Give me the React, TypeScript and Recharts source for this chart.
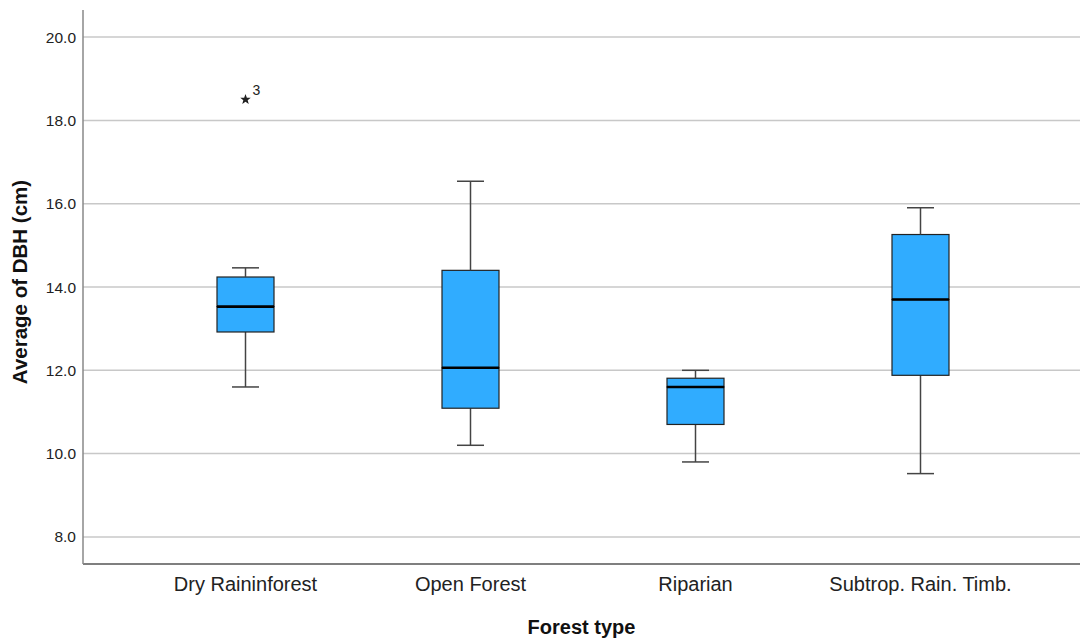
import React from 'react';
import { ComposedChart, Bar, Scatter, XAxis, YAxis, ReferenceLine } from 'recharts';

const categories = ['Dry Raininforest', 'Open Forest', 'Riparian', 'Subtrop. Rain. Timb.'];
const minima = [11.6, 10.2, 9.8, 9.52];
const q1s = [12.92, 11.09, 10.7, 11.88];
const medians = [13.53, 12.06, 11.6, 13.7];
const q3s = [14.24, 14.4, 11.81, 15.26];
const maxima = [14.46, 16.54, 12.0, 15.9];
const outliers: (number | null)[] = [18.5, null, null, null];
const outlierLabels = ['3', '', '', ''];
const yTicks = [8, 10, 12, 14, 16, 18, 20];

const FONT = "Arial, 'Liberation Sans', sans-serif";
const BOX_FILL = '#30acff';

const data = categories.map((name, i) => ({
  name,
  base: minima[i],
  lowWhisker: q1s[i] - minima[i],
  lowBox: medians[i] - q1s[i],
  highBox: q3s[i] - medians[i],
  highWhisker: maxima[i] - q3s[i],
  outlier: outliers[i],
  outlierLabel: outlierLabels[i],
}));

const CAP = 27;

const Empty = () => null;

const LowWhisker = (p: any) => {
  const cx = p.x + p.width / 2;
  const bottom = p.y + p.height;
  return (
    <g stroke="#444" strokeWidth={1.5}>
      <line x1={cx} x2={cx} y1={p.y} y2={bottom} />
      <line x1={cx - CAP / 2} x2={cx + CAP / 2} y1={bottom} y2={bottom} />
    </g>
  );
};

const HighWhisker = (p: any) => {
  const cx = p.x + p.width / 2;
  return (
    <g stroke="#444" strokeWidth={1.5}>
      <line x1={cx} x2={cx} y1={p.y} y2={p.y + p.height} />
      <line x1={cx - CAP / 2} x2={cx + CAP / 2} y1={p.y} y2={p.y} />
    </g>
  );
};

const LowBox = (p: any) => (
  <rect x={p.x} y={p.y} width={p.width} height={p.height} fill={BOX_FILL} stroke="#222" strokeWidth={1.2} />
);

const HighBox = (p: any) => {
  const bottom = p.y + p.height;
  return (
    <g>
      <rect x={p.x} y={p.y} width={p.width} height={p.height} fill={BOX_FILL} stroke="#222" strokeWidth={1.2} />
      <line x1={p.x} x2={p.x + p.width} y1={bottom} y2={bottom} stroke="#000" strokeWidth={2.6} />
    </g>
  );
};

const Star = (p: any) => {
  if (p.payload == null || p.payload.outlier == null) return null;
  const { cx, cy } = p;
  const pts: string[] = [];
  for (let k = 0; k < 10; k++) {
    const r = k % 2 === 0 ? 5.5 : 2.3;
    const a = -Math.PI / 2 + (k * Math.PI) / 5;
    pts.push(`${cx + r * Math.cos(a)},${cy + r * Math.sin(a)}`);
  }
  return (
    <g>
      <polygon points={pts.join(' ')} fill="#222" />
      <text x={cx + 7} y={cy - 5} fontSize={14} fontFamily={FONT} fill="#222">
        {p.payload.outlierLabel}
      </text>
    </g>
  );
};

export default function App() {
  return (
    <div style={{ position: 'absolute', left: 0, top: 0, background: '#fff' }}>
      <ComposedChart
        width={1080}
        height={644}
        data={data}
        margin={{ top: 10, right: 0, bottom: 0, left: 0 }}
        barSize={57}
      >
        {yTicks.map((t) => (
          <ReferenceLine key={t} y={t} stroke="#c8c8c8" strokeWidth={1.5} zIndex={-100} />
        ))}
        <XAxis
          dataKey="name"
          type="category"
          height={80}
          padding={{ left: 50, right: 47 }}
          tickLine={false}
          tickSize={0}
          tickMargin={13}
          axisLine={{ stroke: '#555', strokeWidth: 1.5 }}
          tick={{ fontSize: 20, fill: '#222', fontFamily: FONT }}
          label={{
            value: 'Forest type',
            position: 'insideBottom',
            offset: 10,
            style: { fontSize: 20, fontWeight: 'bold', fill: '#111', fontFamily: FONT },
          }}
        />
        <YAxis
          type="number"
          domain={[7.35, 20.65]}
          ticks={yTicks}
          allowDataOverflow
          width={83}
          tickLine={false}
          tickSize={0}
          tickMargin={7}
          axisLine={{ stroke: '#888', strokeWidth: 1.5 }}
          tickFormatter={(v: number) => v.toFixed(1)}
          tick={{ fontSize: 15.5, fill: '#222', fontFamily: FONT }}
          label={{
            value: 'Average of DBH (cm)',
            angle: -90,
            position: 'insideLeft',
            offset: 20,
            dy: -5,
            style: { textAnchor: 'middle', fontSize: 20.5, fontWeight: 'bold', fill: '#111', fontFamily: FONT },
          }}
        />
        <Bar dataKey="base" stackId="box" shape={<Empty />} isAnimationActive={false} />
        <Bar dataKey="lowWhisker" stackId="box" shape={<LowWhisker />} isAnimationActive={false} />
        <Bar dataKey="lowBox" stackId="box" shape={<LowBox />} isAnimationActive={false} />
        <Bar dataKey="highBox" stackId="box" shape={<HighBox />} isAnimationActive={false} />
        <Bar dataKey="highWhisker" stackId="box" shape={<HighWhisker />} isAnimationActive={false} />
        <Scatter dataKey="outlier" shape={<Star />} isAnimationActive={false} />
      </ComposedChart>
    </div>
  );
}
